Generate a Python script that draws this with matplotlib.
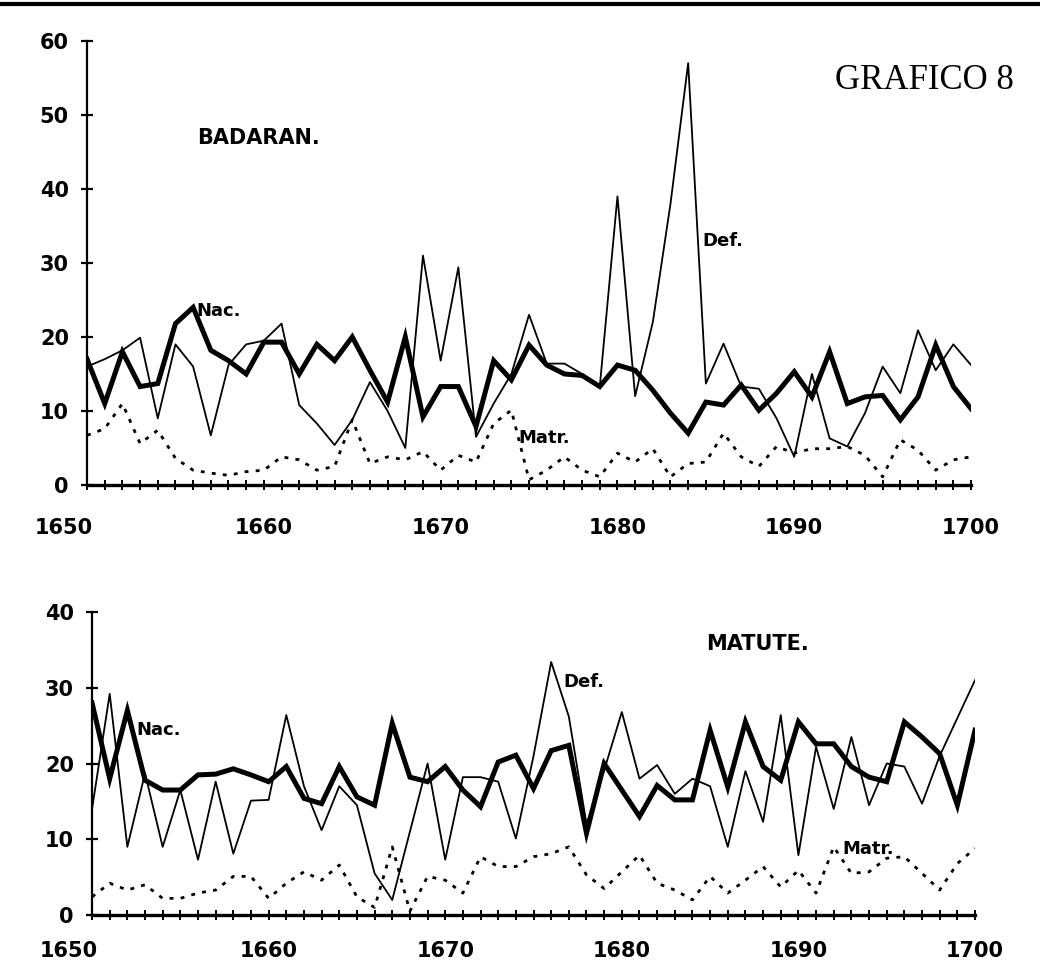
import matplotlib
matplotlib.use('Agg')
import matplotlib.pyplot as plt
from matplotlib.lines import Line2D
from matplotlib.ticker import MultipleLocator, FuncFormatter

years = list(range(1650, 1701))

# BADARAN (top panel)
nac_badaran = [17, 11, 18, 13.3, 13.7, 21.8, 24, 18.2, 16.8, 15,
               19.3, 19.3, 15, 19, 16.8, 20, 15.5, 11.2, 20, 9.2,
               13.3, 13.3, 7.9, 16.8, 14.2, 18.9, 16.2, 15, 14.8, 13.3,
               16.2, 15.5, 12.8, 9.7, 7, 11.2, 10.8, 13.5, 10.1, 12.4,
               15.3, 11.9, 18, 11, 11.9, 12.1, 8.8, 11.9, 18.9, 13.3, 10.3]
def_badaran = [16, 17, 18.2, 19.9, 9, 19, 16, 6.7, 16.2, 19,
               19.5, 21.8, 10.8, 8.3, 5.4, 8.8, 13.9, 10, 5, 31,
               16.8, 29.4, 6.5, 11, 15, 23, 16.4, 16.4, 15, 13.3,
               39, 12, 22, 38, 57, 13.7, 19.1, 13.3, 13, 9,
               3.8, 15, 6.3, 5.2, 9.7, 16, 12.4, 20.9, 15.5, 19, 16.2]
matr_badaran = [6.7, 7.6, 11, 5.6, 7.4, 3.6, 2, 1.6, 1.3, 1.8,
                2, 3.8, 3.4, 2, 2.5, 8.8, 2.9, 3.8, 3.4, 4.5,
                2, 4, 3.1, 8.3, 10.1, 0.7, 2, 3.8, 2, 1.1,
                4.3, 3.1, 4.9, 1.1, 2.9, 3.1, 7, 3.8, 2.5, 5.2,
                4.3, 4.9, 4.9, 5.2, 4, 1.1, 6.1, 4.7, 2, 3.4, 3.8]

# MATUTE (bottom panel)
nac_matute = [28, 18, 27, 17.8, 16.5, 16.5, 18.5, 18.6, 19.3, 18.5,
              17.6, 19.6, 15.4, 14.7, 19.6, 15.6, 14.5, 25.3, 18.2, 17.6,
              19.6, 16.5, 14.3, 20.2, 21.1, 16.7, 21.7, 22.4, 10.8, 20,
              16.5, 13, 17.1, 15.2, 15.2, 24.4, 16.9, 25.5, 19.6, 17.8,
              25.5, 22.6, 22.6, 19.6, 18.2, 17.6, 25.5, 23.5, 21.3, 14.5, 24.4]
def_matute = [14, 29.2, 9, 18.7, 9, 16.5, 7.3, 17.6, 8.1, 15.1,
              15.2, 26.4, 17, 11.2, 17, 14.5, 5.5, 2, 11, 20,
              7.3, 18.2, 18.2, 17.6, 10.1, 21, 33.4, 26.2, 12, 19.1,
              26.8, 18, 19.8, 16, 18, 17, 9, 19, 12.3, 26.4,
              7.9, 22.2, 14, 23.5, 14.5, 20, 19.6, 14.7, 21, 26, 31]
matr_matute = [2.4, 4.2, 3.3, 4, 2.2, 2.2, 2.9, 3.3, 5.1, 5.1,
               2.2, 4.2, 5.7, 4.6, 6.6, 2.4, 1, 9, 0.5, 5.1,
               4.6, 2.9, 7.7, 6.4, 6.4, 7.7, 8.1, 9, 5.3, 3.5,
               5.7, 7.9, 4.2, 3.3, 2, 5.1, 2.9, 4.6, 6.4, 3.7,
               5.9, 2.9, 9, 5.5, 5.7, 7.5, 7.7, 5.5, 3.3, 6.8, 8.8]

FONT = 'DejaVu Sans'


def year_label(val, pos):
  # 1650 is written by hand, shifted left of the axis as in the original
  return '' if round(val) == 1650 else '%d' % val


def draw_panel(ax, nac, defu, matr, ymax, xpad):
  ax.plot(years, matr, color='black', lw=2.0, linestyle=(0, (1.4, 2.6)))
  ax.plot(years, defu, color='black', lw=1.3)
  ax.plot(years, nac, color='black', lw=3.6, solid_joinstyle='miter')
  ax.set_xlim(1650, 1700)
  ax.set_ylim(0, ymax)
  for side in ['top', 'right']:
    ax.spines[side].set_visible(False)
  ax.spines['bottom'].set_linewidth(2.4)
  ax.spines['left'].set_linewidth(1.6)
  ax.xaxis.set_major_locator(MultipleLocator(10))
  ax.xaxis.set_minor_locator(MultipleLocator(1))
  ax.xaxis.set_major_formatter(FuncFormatter(year_label))
  ax.yaxis.set_major_locator(MultipleLocator(10))
  ax.tick_params(axis='x', which='both', direction='inout', length=7, width=1.4,
                 pad=xpad, labelsize=15)
  ax.tick_params(axis='y', which='major', direction='inout', length=8, width=1.6,
                 pad=9, labelsize=15)
  for lab in ax.get_xticklabels() + ax.get_yticklabels():
    lab.set_fontweight('bold')
    lab.set_family(FONT)
  ax.annotate('1650', xy=(1650, 0), xycoords=('data', 'axes fraction'),
              xytext=(4, -(3.5 + xpad)), textcoords='offset points',
              ha='right', va='top', fontsize=15, fontweight='bold', family=FONT)


fig = plt.figure(figsize=(10.4, 9.75), dpi=100)
fig.add_artist(Line2D([0, 1], [0.9955, 0.9955], color='black', lw=3))

ax1 = fig.add_axes([0.0837, 0.5026, 0.850, 0.4554])
draw_panel(ax1, nac_badaran, def_badaran, matr_badaran, 60, 20)
ax1.text(1656.2, 46.9, 'BADARAN.', fontsize=15, fontweight='bold', family=FONT, va='center')
ax1.text(1656.2, 23.5, 'Nac.', fontsize=13, fontweight='bold', family=FONT, va='center')
ax1.text(1684.8, 32.9, 'Def.', fontsize=13, fontweight='bold', family=FONT, va='center')
ax1.text(1674.4, 6.3, 'Matr.', fontsize=13, fontweight='bold', family=FONT, va='center')
ax1.text(1692.3, 54.6, 'GRAFICO 8', fontsize=25, family='Liberation Serif', va='center')

ax2 = fig.add_axes([0.0885, 0.0615, 0.849, 0.3108])
draw_panel(ax2, nac_matute, def_matute, matr_matute, 40, 15)
ax2.text(1684.8, 35.8, 'MATUTE.', fontsize=15, fontweight='bold', family=FONT, va='center')
ax2.text(1676.7, 30.7, 'Def.', fontsize=13, fontweight='bold', family=FONT, va='center')
ax2.text(1652.5, 24.4, 'Nac.', fontsize=13, fontweight='bold', family=FONT, va='center')
ax2.text(1692.5, 8.7, 'Matr.', fontsize=13, fontweight='bold', family=FONT, va='center')

fig.savefig('out.png', dpi=100, facecolor='white')
